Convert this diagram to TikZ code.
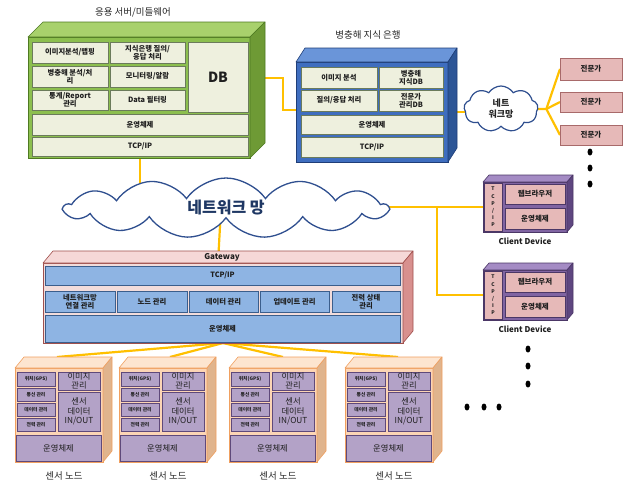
\documentclass[tikz,border=0pt]{standalone}
\usepackage{fontspec}
\setmainfont{Noto Sans CJK KR}
\usetikzlibrary{shapes.symbols,shapes.geometric,backgrounds,calc}
\definecolor{gfrontc}{HTML}{8CBF4E}
\definecolor{gtopc}{HTML}{A8D16C}
\definecolor{gsidec}{HTML}{6E9A35}
\definecolor{gborderc}{HTML}{4E7A22}
\definecolor{pale}{HTML}{EEF0DE}
\definecolor{gcellb}{HTML}{6B7B5B}
\definecolor{bfrontc}{HTML}{3F6EBF}
\definecolor{btopc}{HTML}{6A95D9}
\definecolor{bsidec}{HTML}{2C5596}
\definecolor{bborderc}{HTML}{1F3E78}
\definecolor{pinkc}{HTML}{E6B9B8}
\definecolor{pinkb}{HTML}{A86A6A}
\definecolor{cfrontc}{HTML}{8064A2}
\definecolor{ctopc}{HTML}{A48BC4}
\definecolor{csidec}{HTML}{5E4680}
\definecolor{cborderc}{HTML}{4B3766}
\definecolor{gwfrontc}{HTML}{F2DCDB}
\definecolor{gwtopc}{HTML}{F6D8D7}
\definecolor{gwsidec}{HTML}{D8908E}
\definecolor{gwborderc}{HTML}{A0504D}
\definecolor{gwcellc}{HTML}{8EB4E3}
\definecolor{gwcellb}{HTML}{3B5E8C}
\definecolor{sfrontc}{HTML}{FCD5B5}
\definecolor{stopc}{HTML}{FDE5D0}
\definecolor{ssidec}{HTML}{E0B48D}
\definecolor{sborderc}{HTML}{F0A060}
\definecolor{scellc}{HTML}{B3A2C7}
\definecolor{scellb}{HTML}{5F497A}
\definecolor{wirec}{HTML}{FFC000}
\definecolor{cloudb}{HTML}{2F4F8F}
\definecolor{cloudtext}{HTML}{1F3864}
\newcommand\mybox[7][]{%
  \pgfmathsetmacro\mbw{(#5)-(#3)}\pgfmathsetmacro\mbh{(#6)-(#4)}%
  \node[cellbase,#1,minimum width=\mbw pt,minimum height=\mbh pt,anchor=north west] (#2) at (#3,#4) {#7};}
\newcommand\faces[6]{%
  \filldraw[fill=#4,draw=#6,line width=0.6pt,line join=round] (#1.north west) -- ++(#2,-#3) -- ($(#1.north east)+(#2,-#3)$) -- (#1.north east) -- cycle;
  \filldraw[fill=#5,draw=#6,line width=0.6pt,line join=round] (#1.north east) -- ++(#2,-#3) -- ($(#1.south east)+(#2,-#3)$) -- (#1.south east) -- cycle;}
\begin{document}
\begin{tikzpicture}[x=1pt,y=-1pt,
  cellbase/.style={inner sep=0pt,outer sep=0pt,align=center,text=black!88},
  frontbox/.style={line width=0.8pt},
  gcell/.style={draw=gcellb,fill=pale,line width=0.6pt,font=\bfseries\fontsize{7.3}{8.3}\selectfont},
  ecell/.style={draw=pinkb,fill=pinkc,line width=0.6pt,font=\bfseries\fontsize{7.5}{9}\selectfont},
  ccell/.style={draw=cborderc,fill=pinkc,line width=0.6pt,font=\bfseries\fontsize{7.5}{9}\selectfont},
  tcpv/.style={font=\bfseries\fontsize{5}{7.2}\selectfont},
  gwcell/.style={draw=gwcellb,fill=gwcellc,line width=0.6pt,font=\bfseries\fontsize{7.3}{8.3}\selectfont},
  scell/.style={draw=scellb,fill=scellc,line width=0.6pt,font=\bfseries\fontsize{4.8}{5.5}\selectfont},
  sbig/.style={font=\fontsize{8.3}{9.3}\selectfont},
  titlet/.style={font=\fontsize{9.5}{11}\selectfont,text=black!85},
  clabel/.style={font=\bfseries\fontsize{8}{9}\selectfont,text=black!88},
  wire/.style={draw=wirec,line width=2.2pt},
  dot/.style={ellipse,fill=black,inner sep=0pt,minimum width=5pt,minimum height=7pt}]
\useasboundingbox (0,0) rectangle (633,488);

% ---------- application server ----------
\node[titlet] (gtitle) at (133,12) {응용 서버/미들웨어};
\mybox[frontbox,draw=gborderc,fill=gfrontc]{gfront}{28}{37}{250}{158}{}
\faces{gfront}{15}{15}{gtopc}{gsidec}{gborderc}
\mybox[gcell]{g1}{32}{42}{108}{63}{이미지분석/맵핑}
\mybox[gcell]{g2}{110}{42}{185}{63}{지식은행 질의/\\응답 처리}
\mybox[gcell,font=\bfseries\fontsize{14}{16}\selectfont]{gdb}{188}{42}{248}{112}{DB}
\mybox[gcell]{g3}{32}{66}{108}{87}{병충해 분석/처\\리}
\mybox[gcell]{g4}{110}{66}{185}{87}{모니터링/알람}
\mybox[gcell]{g5}{32}{90}{108}{110}{통계/Report\\관리}
\mybox[gcell]{g6}{110}{90}{185}{110}{Data 필터링}
\mybox[gcell]{gos}{32}{114}{248}{135}{운영체제}
\mybox[gcell]{gtcp}{32}{137}{248}{156}{TCP/IP}

% ---------- knowledge bank ----------
\node[titlet] (btitle) at (368,35) {병충해 지식 은행};
\mybox[frontbox,draw=bborderc,fill=bfrontc]{bfront}{296}{62}{448}{162}{}
\faces{bfront}{9}{14}{btopc}{bsidec}{bborderc}
\mybox[gcell]{b1}{301}{67}{377}{88}{이미지 분석}
\mybox[gcell]{b2}{301}{90}{377}{111}{질의/응답 처리}
\mybox[gcell]{b3}{379}{67}{443}{88}{병충해\\지식DB}
\mybox[gcell]{b4}{379}{90}{443}{111}{전문가\\관리DB}
\mybox[gcell]{bos}{301}{115}{443}{134}{운영체제}
\mybox[gcell]{btcp}{301}{137}{443}{157}{TCP/IP}

% ---------- small cloud and experts ----------
\node[cloud,draw=cloudb,fill=white,line width=1.2pt,cloud puffs=9,cloud puff arc=115,aspect=1.6,
  minimum width=74pt,minimum height=46pt,inner sep=0pt,align=center,
  font=\bfseries\fontsize{9}{11}\selectfont,text=black!85] (scloud) at (501,109) {네트\\워크망};
\mybox[ecell]{e1}{560}{58}{622}{80}{전문가}
\mybox[ecell]{e2}{560}{92}{622}{112}{전문가}
\mybox[ecell]{e3}{560}{125}{622}{145}{전문가}
\node[dot] (v1) at (590,152) {};
\node[dot] (v2) at (590,168) {};
\node[dot] (v3) at (590,184) {};

% ---------- big cloud ----------
\node[cloud,draw=cloudb,fill=white,line width=1.3pt,cloud puffs=13,cloud puff arc=110,aspect=5.2,
  minimum width=323pt,minimum height=60pt,inner sep=0pt,
  font=\bfseries\fontsize{16}{18}\selectfont,text=cloudtext] (net) at (226,208) {네트워크 망};

% ---------- client devices ----------
\foreach \o/\i in {0/1,88/2}{
  \mybox[frontbox,draw=cborderc,fill=cfrontc]{c\i front}{483}{182+\o}{567}{232+\o}{}
  \faces{c\i front}{6}{7}{ctopc}{csidec}{cborderc}
  \mybox[ccell,tcpv]{c\i tcp}{484}{183+\o}{502}{231+\o}{T\\C\\P\\/\\I\\P}
  \mybox[ccell]{c\i web}{505}{184+\o}{565}{204+\o}{웹브라우저}
  \mybox[ccell]{c\i os}{505}{208+\o}{565}{229+\o}{운영체제}
  \node[clabel] (c\i label) at (525,241+\o) {Client Device};
}

% ---------- gateway ----------
\mybox[frontbox,draw=gwborderc,fill=gwfrontc]{gwfront}{43}{263}{403}{343}{}
\faces{gwfront}{10}{12}{gwtopc}{gwsidec}{gwborderc}
\node[clabel] (gwlabel) at (222,257) {Gateway};
\mybox[gwcell]{gwtcp}{45}{266}{400}{285}{TCP/IP}
\mybox[gwcell]{gw1}{45}{291}{115}{312}{네트워크망\\연결 관리}
\mybox[gwcell]{gw2}{117}{291}{187}{312}{노드 관리}
\mybox[gwcell]{gw3}{189}{291}{258}{312}{데이터 관리}
\mybox[gwcell]{gw4}{260}{291}{329}{312}{업데이트 관리}
\mybox[gwcell]{gw5}{332}{291}{400}{312}{전력 상태\\관리}
\mybox[gwcell]{gwos}{45}{315}{400}{342}{운영체제}

% ---------- sensor nodes ----------
\foreach \L/\i/\tx in {15/1/42,119/2/51,229/3/54,345/4/53}{
  \mybox[frontbox,draw=sborderc,fill=sfrontc]{s\i front}{\L}{368}{\L+88}{462}{}
  \faces{s\i front}{9}{11}{stopc}{ssidec}{sborderc}
  \mybox[scell]{s\i gps}{\L+2}{372}{\L+40}{386}{위치(GPS)}
  \mybox[scell]{s\i com}{\L+2}{388}{\L+40}{401}{통신 관리}
  \mybox[scell]{s\i dat}{\L+2}{403}{\L+40}{416}{데이터 관리}
  \mybox[scell]{s\i pow}{\L+2}{418}{\L+40}{431}{전력 관리}
  \mybox[scell,sbig]{s\i img}{\L+43}{372}{\L+85}{390}{이미지\\관리}
  \mybox[scell,sbig]{s\i sen}{\L+43}{392}{\L+85}{431}{센서\\데이터\\IN/OUT}
  \mybox[scell,sbig]{s\i os}{\L+1}{435}{\L+86}{461}{운영체제}
  \node[titlet] (s\i label) at (\L+49,476) {센서 노드};
  \coordinate (s\i top) at (\L+\tx,357);
}
\node[dot] (w1) at (528,349) {};
\node[dot] (w2) at (528,366) {};
\node[dot] (w3) at (528,384) {};
\node[dot] (h1) at (467,407) {};
\node[dot] (h2) at (484,407) {};
\node[dot] (h3) at (499,407) {};

% ---------- connectors ----------
\begin{pgfonlayer}{background}
  \coordinate (gb1) at (283,78);
  \coordinate (gb2) at (283,110);
  \draw[wire] (gfront.center |- gb1) -- (gb1) -- (gb2) -- (bfront.center |- gb2);
  \draw[wire] (bfront.center |- bfront.east) -- (scloud.center |- bfront.east);
  \coordinate (sj) at ($(scloud.east)+(8,0)$);
  \draw[wire] (scloud.center) -- (sj);
  \draw[wire] (sj) -- (e1.west);
  \draw[wire] (sj) -- (e2.west);
  \draw[wire] (sj) -- (e3.west);
  \draw[wire] (gfront.center -| gtcp.center) -- (net.center -| gtcp.center);
  \draw[wire] ([xshift=-5pt]net.center) -- ([xshift=-5pt]gwfront.north);
  \coordinate (jn) at (437,207);
  \draw[wire] (net.center |- c1front.west) -- (c1front.west);
  \draw[wire] (jn) |- (c2front.west);
  \foreach \i in {1,...,4}{\draw[wire] (gwfront.south) -- (s\i top);}
\end{pgfonlayer}
\end{tikzpicture}
\end{document}
